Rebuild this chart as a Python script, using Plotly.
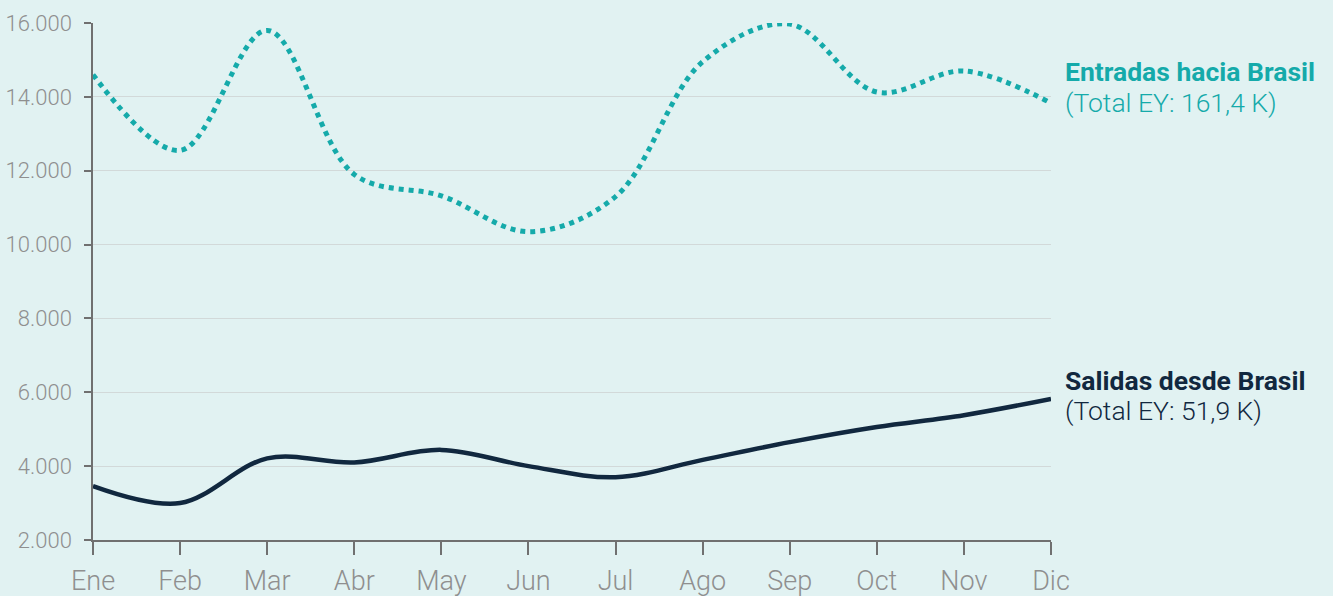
import plotly.graph_objects as go

months = ["Ene", "Feb", "Mar", "Abr", "May", "Jun", "Jul", "Ago", "Sep", "Oct", "Nov", "Dic"]
entradas = [14600, 12550, 15800, 11900, 11320, 10350, 11300, 14950, 15970, 14130, 14700, 13830]
salidas = [3460, 3000, 4210, 4100, 4440, 4000, 3700, 4170, 4650, 5060, 5380, 5820]
y_ticks = [2000, 4000, 6000, 8000, 10000, 12000, 14000, 16000]
y_tick_labels = ["2.000", "4.000", "6.000", "8.000", "10.000", "12.000", "14.000", "16.000"]

TEAL = "#15AAAA"
NAVY = "#11283F"
BG = "#E1F2F2"

fig = go.Figure()
fig.add_trace(go.Scatter(x=months, y=entradas, mode="lines",
                         line=dict(color=TEAL, width=5, dash="5px,5px", shape="spline", smoothing=1.0),
                         hoverinfo="skip"))
fig.add_trace(go.Scatter(x=months, y=salidas, mode="lines",
                         line=dict(color=NAVY, width=4.5, shape="spline", smoothing=1.0),
                         hoverinfo="skip"))

fnt = "Roboto"
annos = [
    ("<b>Entradas hacia Brasil</b>", 14700, TEAL, 400),
    ("(Total EY: 161,4 K)", 13850, TEAL, 300),
    ("<b>Salidas desde Brasil</b>", 6330, NAVY, 400),
    ("(Total EY: 51,9 K)", 5500, NAVY, 300),
]
for txt, yv, col, w in annos:
    fig.add_annotation(x=1, xref="paper", xshift=12, y=yv, yref="y", text=txt,
                       showarrow=False, xanchor="left", yanchor="middle",
                       font=dict(family=fnt, size=26.5, color=col, weight=w))

fig.update_layout(
    width=1333, height=596,
    margin=dict(l=93, r=282, t=23, b=56, autoexpand=False),
    paper_bgcolor=BG, plot_bgcolor=BG,
    showlegend=False,
    font=dict(family=fnt),
)
fig.update_xaxes(
    type="category", range=[0, 11], showgrid=False, automargin=False,
    showline=True, linecolor="#707070", linewidth=1.5,
    ticks="outside", ticklen=13, tickcolor="#707070", tickwidth=1.5,
    tickfont=dict(family=fnt, size=27, color="#8F8F8F", weight=300),
    ticklabelstandoff=3,
    zeroline=False,
)
fig.update_yaxes(
    range=[2000, 16000], tickvals=y_ticks, ticktext=y_tick_labels, automargin=False,
    showgrid=True, gridcolor="#D2D9D9", gridwidth=1,
    showline=True, linecolor="#707070", linewidth=1.5,
    ticks="outside", ticklen=7, tickcolor="#707070", tickwidth=1.5,
    tickfont=dict(family=fnt, size=22, color="#8F8F8F", weight=300),
    ticklabelstandoff=8,
    zeroline=False,
)

fig.write_html("out.html", config={"displayModeBar": False},
               post_script="document.body.style.margin='0';document.body.style.background='%s';" % BG)
